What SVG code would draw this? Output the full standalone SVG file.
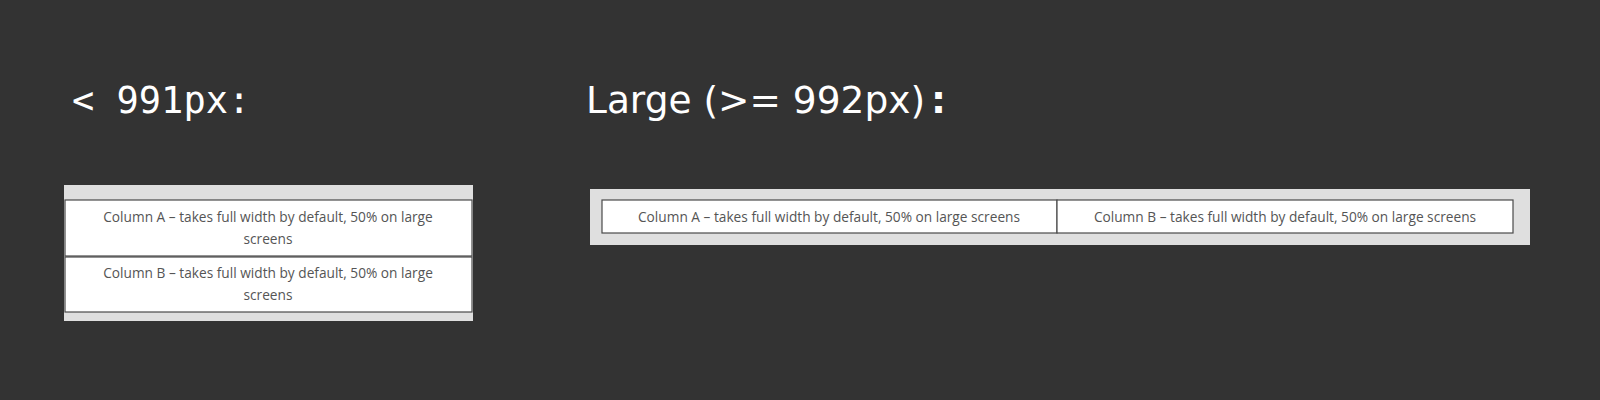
<svg xmlns="http://www.w3.org/2000/svg" width="1600" height="400" viewBox="0 0 1600 400">
<style>
.bg{fill:#333333}
.panel{fill:#dfdfdf}
.col{fill:#ffffff;stroke:#4a4a4a;stroke-width:1.2}
.ct{font-family:"Open Sans","Noto Sans",sans-serif;font-size:13.7px;fill:#555555;text-anchor:middle}
.h1{font-family:"DejaVu Sans Mono",monospace;font-size:37px;fill:#ffffff}
.h2{font-family:"DejaVu Sans",sans-serif;font-size:37.5px;fill:#ffffff}
</style>
<rect class="bg" x="0" y="0" width="1600" height="400"/>
<g id="heading-small"><text class="h1" x="72" y="113">&lt; 991px:</text></g>
<g id="heading-large"><text class="h2" x="586" y="113">Large (&gt;= 992px)<tspan font-weight="bold" dx="6">:</tspan></text></g>
<g id="panel-small">
<rect class="panel" x="64" y="185" width="409" height="136"/>
</g>
<g id="small-col-a">
<rect class="col" x="65" y="200" width="407" height="56"/>
<text class="ct" x="268" y="222">Column A – takes full width by default, 50% on large</text>
<text class="ct" x="268" y="244">screens</text>
</g>
<g id="small-col-b">
<rect class="col" x="65" y="257" width="407" height="55"/>
<text class="ct" x="268" y="278">Column B – takes full width by default, 50% on large</text>
<text class="ct" x="268" y="300">screens</text>
</g>
<g id="panel-large">
<rect class="panel" x="590" y="189" width="940" height="56"/>
</g>
<g id="large-col-a">
<rect class="col" x="602" y="200" width="455" height="33"/>
<text class="ct" x="829" y="222">Column A – takes full width by default, 50% on large screens</text>
</g>
<g id="large-col-b">
<rect class="col" x="1057" y="200" width="456" height="33"/>
<text class="ct" x="1285" y="222">Column B – takes full width by default, 50% on large screens</text>
</g>
<g id="connectors"></g>
</svg>
